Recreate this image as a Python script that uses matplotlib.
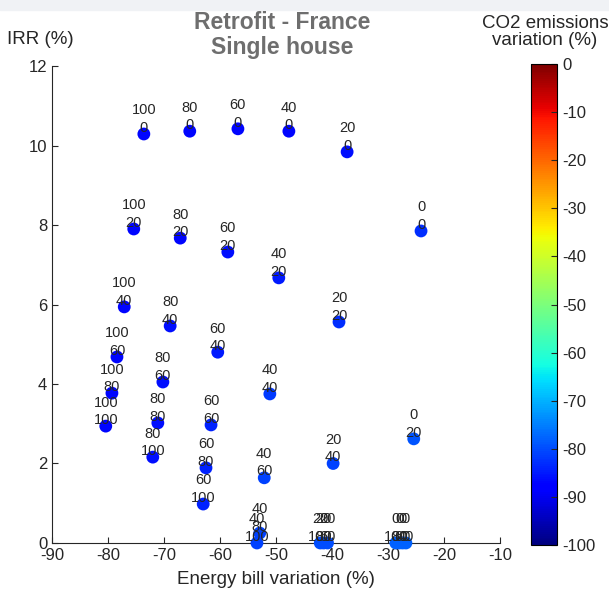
import numpy as np
import matplotlib
matplotlib.use("Agg")
import matplotlib.pyplot as plt
from matplotlib.patches import Rectangle

# label pairs (top / bottom number shown next to each point)
top_lbl = [100, 80, 60, 40, 20, 0,
           100, 80, 60, 40, 20, 0,
           100, 80, 60, 40, 20, 0,
           100, 80, 60, 40, 20, 0,
           100, 80, 60, 40, 20, 0,
           100, 80, 60, 40, 20, 0]
bot_lbl = [0, 0, 0, 0, 0, 0,
           20, 20, 20, 20, 20, 20,
           40, 40, 40, 40, 40, 40,
           60, 60, 60, 60, 60, 60,
           80, 80, 80, 80, 80, 80,
           100, 100, 100, 100, 100, 100]
bill = [-73.6, -65.4, -56.8, -47.7, -37.3, -24.1,
        -75.4, -67.1, -58.6, -49.5, -38.75, -25.4,
        -77.1, -68.9, -60.4, -51.1, -39.8, -26.8,
        -78.4, -70.2, -61.6, -52.1, -40.8, -27.4,
        -79.3, -71.1, -62.5, -52.9, -41.5, -28.0,
        -80.4, -72.0, -63.0, -53.4, -42.1, -28.6]
irr = [10.29, 10.36, 10.42, 10.36, 9.84, 7.85,
       7.90, 7.67, 7.32, 6.67, 5.56, 2.62,
       5.94, 5.46, 4.80, 3.75, 2.00, 0.0,
       4.68, 4.05, 2.97, 1.64, 0.0, 0.0,
       3.77, 3.02, 1.89, 0.25, 0.0, 0.0,
       2.94, 2.16, 0.98, 0.0, 0.0, 0.0]
co2 = [-87, -87, -87, -87, -86, -83,
       -87, -87, -86, -85, -83, -79,
       -87, -86, -85, -82, -81, -78,
       -87, -86, -84, -81, -80, -78,
       -87, -86, -84, -81, -80, -78,
       -87, -86, -84, -81, -80, -78]

plt.rcParams['font.family'] = ['Liberation Sans', 'DejaVu Sans']
plt.rcParams['axes.unicode_minus'] = False
txt_col = '#262626'

fig = plt.figure(figsize=(6.09, 5.98), dpi=100)
fig.patches.append(Rectangle((0, 1 - 10 / 598), 1, 10 / 598, transform=fig.transFigure,
                             color='#f0f2f5', zorder=0))

ax = fig.add_axes([0.0854, 0.092, 0.7356, 0.7976])
sc = ax.scatter(bill, irr, c=co2, cmap='jet', vmin=-100, vmax=0, s=85,
                edgecolors='none', clip_on=False, zorder=3)
for x, y, a, b in zip(bill, irr, top_lbl, bot_lbl):
    ax.annotate(f"{a}\n{b}", (x, y), xytext=(0, -0.5), textcoords='offset points',
                ha='center', va='bottom', fontsize=10.5, color=txt_col,
                linespacing=1.3, zorder=4, annotation_clip=False)

ax.set_xlim(-90, -10)
ax.set_ylim(0, 12)
ax.set_xticks(range(-90, 0, 10))
ax.set_yticks(range(0, 13, 2))
ax.tick_params(direction='in', labelsize=12, colors=txt_col, length=4)
for s in ['top', 'right']:
    ax.spines[s].set_visible(False)
for s in ['left', 'bottom']:
    ax.spines[s].set_color(txt_col)
ax.set_xlabel('Energy bill variation (%)', fontsize=13.5, color=txt_col, labelpad=6)

fig.text(7 / 609, 1 - 40 / 598, 'IRR (%)', ha='left', va='center', fontsize=13.5, color=txt_col)
fig.text(282 / 609, 1 - 35 / 598, 'Retrofit - France\nSingle house', ha='center', va='center',
         fontsize=16.5, fontweight='bold', color='#6e6e6e', linespacing=1.15)

cax = fig.add_axes([0.872, 0.0886, 0.043, 0.8044])
cb = fig.colorbar(sc, cax=cax, ticks=range(-100, 1, 10))
cb.ax.tick_params(direction='in', labelsize=12, colors=txt_col, length=4)
cb.outline.set_linewidth(0.8)
fig.text(545 / 609, 1 - 32 / 598, 'CO2 emissions\nvariation (%)', ha='center', va='center',
         fontsize=13.5, color=txt_col, linespacing=1.05)

fig.savefig('out.png', dpi=100)
